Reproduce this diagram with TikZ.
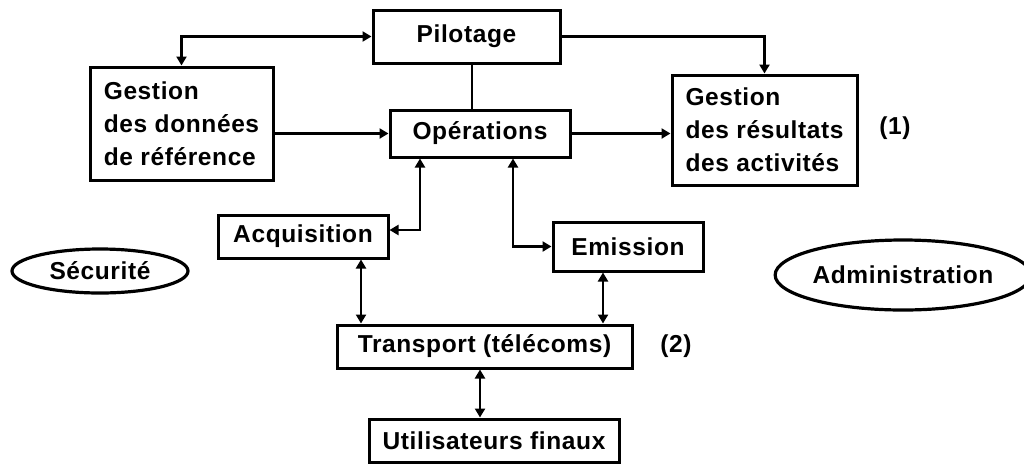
\documentclass[tikz,border=0pt]{standalone}
\usepackage{fontspec}
\setmainfont{Liberation Sans}[LetterSpace=2.5]
\usetikzlibrary{arrows.meta,shapes.geometric}
\begin{document}
\begin{tikzpicture}[x=1pt,y=-1pt,
  every node/.style={font=\bfseries\fontsize{24.5}{33}\selectfont, inner sep=0pt},
  box/.style={draw, line width=3pt, rectangle, align=left},
  oval/.style={draw, line width=3.2pt, ellipse},
  link/.style={line width=2.8pt},
  tip/.style={-{Triangle[length=9pt,width=10pt]}},
  both/.style={{Triangle[length=9pt,width=10pt]}-{Triangle[length=9pt,width=10pt]}}]
\useasboundingbox (0,0) rectangle (1024,464);

% boxes
\node[box, minimum width=187pt, minimum height=53pt] (pil) at (466.5,36.5) {Pilotage};
\node[box, minimum width=183pt, minimum height=113pt] (gdr) at (181.5,123.5) {Gestion\\des données\\de référence};
\node[box, minimum width=180pt, minimum height=47pt] (ops) at (480,133.5) {Opérations};
\node[box, minimum width=185pt, minimum height=110pt] (gra) at (764.5,130) {Gestion\\des résultats\\des activités};
\node[box, minimum width=170pt, minimum height=43pt] (acq) at (303,236.5) {Acquisition};
\node[box, minimum width=150pt, minimum height=49pt] (emi) at (628,246.5) {Emission};
\node[box, minimum width=295pt, minimum height=43pt] (tra) at (484.5,346.5) {Transport (télécoms)};
\node[box, minimum width=250pt, minimum height=43pt] (uti) at (494,440.5) {Utilisateurs finaux};

% ovals
\node[oval, minimum width=176pt, minimum height=44pt] (secu) at (100,271) {Sécurité};
\node[oval, minimum width=234pt, minimum height=70pt] (admin) at (903,275) {Administration};

% side labels
\node (n1) at (895,128) {(1)};
\node (n2) at (676,346) {(2)};

% connectors
\draw[link, both] (gdr.north) |- (pil.west);
\draw[link, tip] (pil.east) -| (gra.north);
\draw[link] ([xshift=5.5pt]pil.south) -- ([xshift=5.5pt]pil.south |- ops.north);
\draw[link, tip] (gdr.east |- ops.west) -- (ops.west);
\draw[link, tip] (ops.east) -- (ops.east -| gra.west);
\draw[link, both] ([xshift=-60pt]ops.south) |- ([yshift=6.5pt]acq.east);
\draw[link, both] ([xshift=33pt]ops.south) |- (emi.west);
\draw[link, both] ([xshift=58pt]acq.south) -- ([xshift=58pt]acq.south |- tra.north);
\draw[link, both] ([xshift=-25pt]emi.south) -- ([xshift=-25pt]emi.south |- tra.north);
\draw[link, both] ([xshift=-4.5pt]tra.south) -- ([xshift=-4.5pt]tra.south |- uti.north);
\end{tikzpicture}
\end{document}
